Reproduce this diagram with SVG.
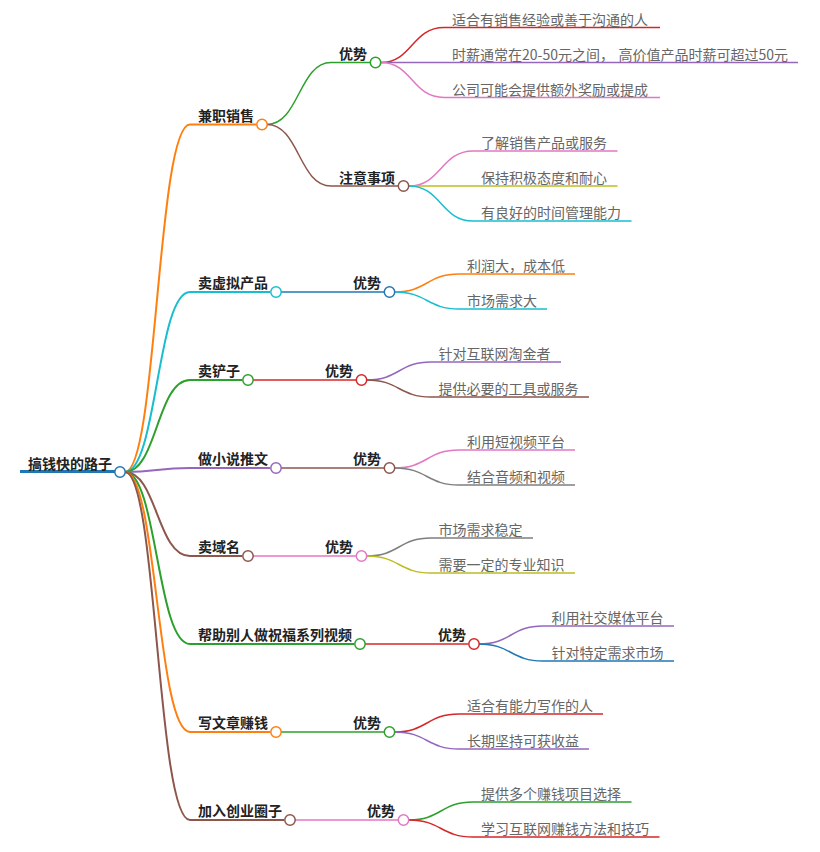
<svg xmlns="http://www.w3.org/2000/svg" width="820" height="852" viewBox="0 0 820 852">
<style>
text{font-family:"Noto Sans CJK SC","Noto Sans",sans-serif;font-size:14px}
.b{font-weight:700;fill:#222}
.l{font-weight:400;fill:#666}
path{fill:none}
circle{fill:#fff;stroke-width:1.5}
.w3{stroke-width:3}.w2{stroke-width:2}.w1{stroke-width:1.5}
.or{stroke:#ff7f0e}.cy{stroke:#17becf}.gr{stroke:#2ca02c}.pu{stroke:#9467bd}.br{stroke:#8c564b}.pi{stroke:#e377c2}.gy{stroke:#7f7f7f}.ol{stroke:#bcbd22}.re{stroke:#d62728}.bl{stroke:#1f77b4}
</style>
<g id="connectors">
<path class="w3 bl" d="M20 471.5H120"/>
<path class="w2 or" d="M125 472C157 472 157 124.5 190 124.5H256"/>
<path class="w2 cy" d="M125 472C157 472 157 292 190 292H270"/>
<path class="w2 gr" d="M125 472C157 472 157 380 190 380H242"/>
<path class="w2 pu" d="M125 472C157 472 157 468 190 468H270"/>
<path class="w2 br" d="M125 472C157 472 157 556 190 556H242"/>
<path class="w2 gr" d="M125 472C157 472 157 644 190 644H354"/>
<path class="w2 or" d="M125 472C157 472 157 732 190 732H270"/>
<path class="w2 br" d="M125 472C157 472 157 820 190 820H284"/>
<path class="w1 gr" d="M267 124.5C299 124.5 299 62.5 331 62.5H370"/>
<path class="w1 br" d="M267 124.5C299 124.5 299 186 331 186H398"/>
<path class="w1 re" d="M381 62.5C412 62.5 412 27.5 444 27.5H660"/>
<path class="w1 pu" d="M381 62.5H798"/>
<path class="w1 pi" d="M381 62.5C412 62.5 412 97.5 444 97.5H660"/>
<path class="w1 pi" d="M409 186C441 186 441 151 473 151H617.500"/>
<path class="w1 ol" d="M409 186H617.500"/>
<path class="w1 cy" d="M409 186C441 186 441 221 473 221H631.500"/>
<path class="w1 bl" d="M281 292H384"/>
<path class="w1 or" d="M395 292C427 292 427 274 459 274H575"/>
<path class="w1 cy" d="M395 292C427 292 427 309 459 309H547"/>
<path class="w1 re" d="M253 380H356"/>
<path class="w1 pu" d="M367 380C399 380 399 362 431 362H561"/>
<path class="w1 br" d="M367 380C399 380 399 397 431 397H589"/>
<path class="w1 br" d="M281 468H384"/>
<path class="w1 pi" d="M395 468C427 468 427 450 459 450H575"/>
<path class="w1 gy" d="M395 468C427 468 427 485 459 485H575"/>
<path class="w1 pi" d="M253 556H356"/>
<path class="w1 gy" d="M367 556C399 556 399 538 431 538H533"/>
<path class="w1 ol" d="M367 556C399 556 399 573 431 573H575"/>
<path class="w1 re" d="M365 644H468"/>
<path class="w1 pu" d="M479 644C511 644 511 626 543 626H674"/>
<path class="w1 bl" d="M479 644C511 644 511 661 543 661H674"/>
<path class="w1 gr" d="M281 732H384"/>
<path class="w1 re" d="M395 732C427 732 427 714 459 714H603"/>
<path class="w1 pu" d="M395 732C427 732 427 749 459 749H589"/>
<path class="w1 pi" d="M295 820H398"/>
<path class="w1 gr" d="M409 820C441 820 441 802 473 802H631.500"/>
<path class="w1 re" d="M409 820C441 820 441 837 473 837H659.500"/>
</g>
<g id="root"><text class="b" x="28" y="469">搞钱快的路子</text><circle class="bl" cx="120" cy="472" r="5.200"/></g>
<g id="n1"><text class="b" x="198" y="121">兼职销售</text><circle class="or" cx="262" cy="124.500" r="5.200"/></g>
<g id="n1a"><text class="b" x="339" y="59">优势</text><circle class="gr" cx="375.500" cy="62.500" r="5.200"/></g>
<g id="n1a1"><text class="l" x="452" y="25">适合有销售经验或善于沟通的人</text></g>
<g id="n1a2"><text class="l" x="452" y="60">时薪通常在20-50元之间，<tspan dx="4.600">高价值产品时薪可超过50元</tspan></text></g>
<g id="n1a3"><text class="l" x="452" y="95">公司可能会提供额外奖励或提成</text></g>
<g id="n1b"><text class="b" x="339" y="183">注意事项</text><circle class="br" cx="403.500" cy="186" r="5.200"/></g>
<g id="n1b1"><text class="l" x="481" y="148">了解销售产品或服务</text></g>
<g id="n1b2"><text class="l" x="481" y="183">保持积极态度和耐心</text></g>
<g id="n1b3"><text class="l" x="481" y="218">有良好的时间管理能力</text></g>
<g id="n2"><text class="b" x="198" y="288">卖虚拟产品</text><circle class="cy" cx="276" cy="292" r="5.200"/></g>
<g id="n2a"><text class="b" x="353" y="288">优势</text><circle class="bl" cx="389.500" cy="292" r="5.200"/></g>
<g id="n2a1"><text class="l" x="467" y="271">利润大，成本低</text></g>
<g id="n2a2"><text class="l" x="467" y="306">市场需求大</text></g>
<g id="n3"><text class="b" x="198" y="376">卖铲子</text><circle class="gr" cx="248" cy="380" r="5.200"/></g>
<g id="n3a"><text class="b" x="325" y="376">优势</text><circle class="re" cx="361.500" cy="380" r="5.200"/></g>
<g id="n3a1"><text class="l" x="438.500" y="359">针对互联网淘金者</text></g>
<g id="n3a2"><text class="l" x="438.500" y="394">提供必要的工具或服务</text></g>
<g id="n4"><text class="b" x="198" y="464">做小说推文</text><circle class="pu" cx="276" cy="468" r="5.200"/></g>
<g id="n4a"><text class="b" x="353" y="464">优势</text><circle class="br" cx="389.500" cy="468" r="5.200"/></g>
<g id="n4a1"><text class="l" x="467" y="447">利用短视频平台</text></g>
<g id="n4a2"><text class="l" x="467" y="482">结合音频和视频</text></g>
<g id="n5"><text class="b" x="198" y="552">卖域名</text><circle class="br" cx="248" cy="556" r="5.200"/></g>
<g id="n5a"><text class="b" x="325" y="552">优势</text><circle class="pi" cx="361.500" cy="556" r="5.200"/></g>
<g id="n5a1"><text class="l" x="438.500" y="535">市场需求稳定</text></g>
<g id="n5a2"><text class="l" x="438.500" y="570">需要一定的专业知识</text></g>
<g id="n6"><text class="b" x="198" y="640">帮助别人做祝福系列视频</text><circle class="gr" cx="360" cy="644" r="5.200"/></g>
<g id="n6a"><text class="b" x="438" y="640">优势</text><circle class="re" cx="474" cy="644" r="5.200"/></g>
<g id="n6a1"><text class="l" x="551.500" y="623">利用社交媒体平台</text></g>
<g id="n6a2"><text class="l" x="551.500" y="658">针对特定需求市场</text></g>
<g id="n7"><text class="b" x="198" y="728">写文章赚钱</text><circle class="or" cx="276" cy="732" r="5.200"/></g>
<g id="n7a"><text class="b" x="353" y="728">优势</text><circle class="gr" cx="389.500" cy="732" r="5.200"/></g>
<g id="n7a1"><text class="l" x="467" y="711">适合有能力写作的人</text></g>
<g id="n7a2"><text class="l" x="467" y="746">长期坚持可获收益</text></g>
<g id="n8"><text class="b" x="198" y="816">加入创业圈子</text><circle class="br" cx="290" cy="820" r="5.200"/></g>
<g id="n8a"><text class="b" x="367" y="816">优势</text><circle class="pi" cx="403.500" cy="820" r="5.200"/></g>
<g id="n8a1"><text class="l" x="481" y="799">提供多个赚钱项目选择</text></g>
<g id="n8a2"><text class="l" x="481" y="834">学习互联网赚钱方法和技巧</text></g>
</svg>
